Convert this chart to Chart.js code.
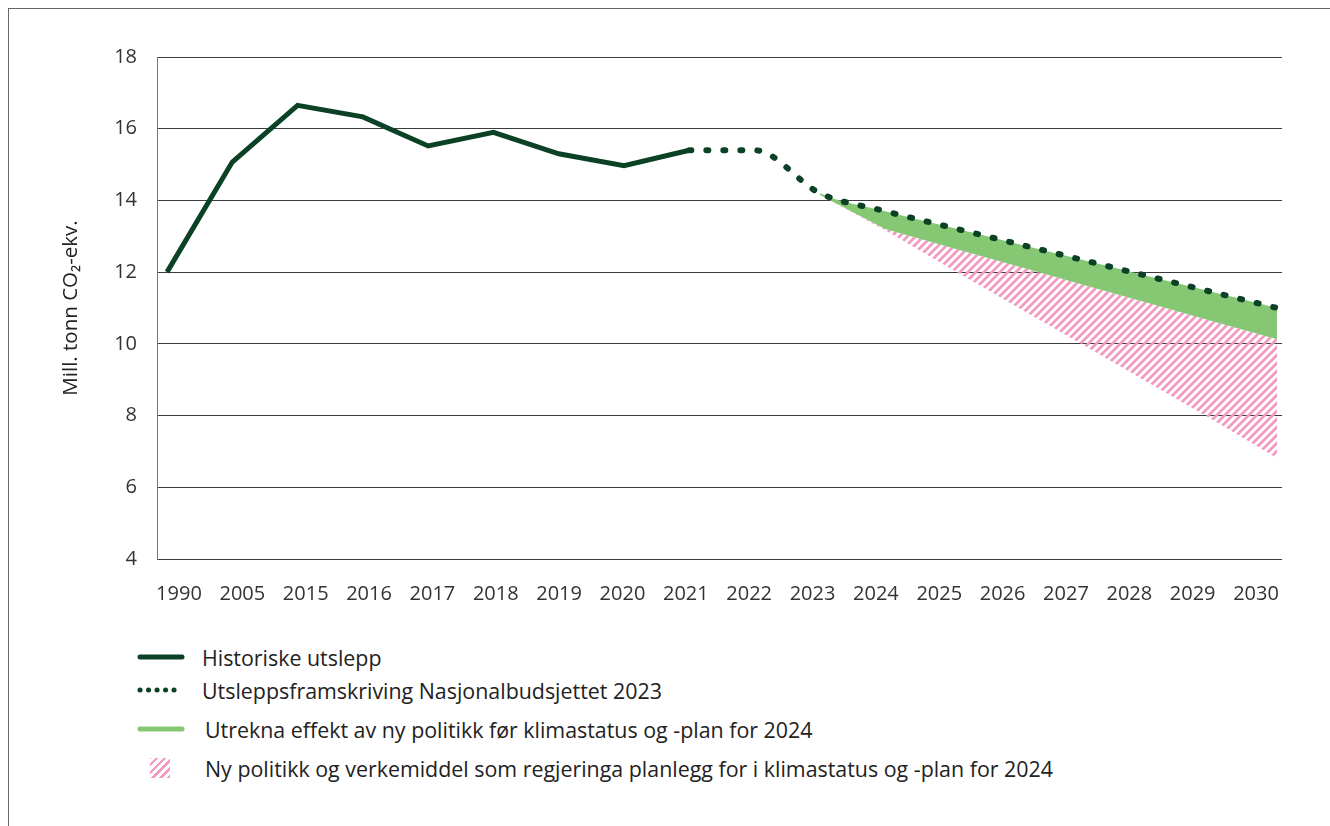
<!DOCTYPE html>
<html>
<head>
<meta charset="utf-8">
<script src="https://cdn.jsdelivr.net/npm/chart.js@4.4.0/dist/chart.umd.min.js"></script>
<style>
  body { margin: 0; background: #fff; font-family: "Open Sans", sans-serif; }
  #frame { position: absolute; left: 8px; top: 8px; width: 1330px; height: 830px;
           border-left: 1px solid #666; border-top: 1px solid #666; }
  #wrap { position: absolute; left: 0; top: 0; width: 1330px; height: 620px; }
  #legend { position: absolute; left: 137px; top: 640px; color: #222; font-size: 21.4px; }
  .item { position: absolute; left: 0; white-space: nowrap; display: flex; align-items: center; height: 34px; }
  .item span { position: absolute; }
</style>
</head>
<body>
<div id="frame"></div>
<div id="wrap"><canvas id="utslepp" width="1330" height="620"></canvas></div>
<div id="legend">
  <div class="item" style="top:0px"><svg width="48" height="10"><line x1="3" y1="5" x2="45" y2="5" stroke="#0b4226" stroke-width="5" stroke-linecap="round"/></svg><span style="left:65px">Historiske utslepp</span></div>
  <div class="item" style="top:33px"><svg width="48" height="10"><line x1="3" y1="5" x2="45" y2="5" stroke="#0b4226" stroke-width="5" stroke-linecap="round" stroke-dasharray="0.1 8.4"/></svg><span style="left:65px">Utsleppsframskriving Nasjonalbudsjettet 2023</span></div>
  <div class="item" style="top:72px"><svg width="48" height="10"><line x1="3" y1="5" x2="45" y2="5" stroke="#86c774" stroke-width="5" stroke-linecap="round"/></svg><span style="left:68px">Utrekna effekt av ny politikk før klimastatus og -plan for 2024</span></div>
  <div class="item" style="top:111px"><div style="width:20px;height:20px;margin-left:13px;background:repeating-linear-gradient(-45deg,#f29bc1 0 2.5px,#fff 2.5px 5.5px)"></div><span style="left:68px">Ny politikk og verkemiddel som regjeringa planlegg for i klimastatus og -plan for 2024</span></div>
</div>
<script>
let aar = ['1990', '2005', '2015', '2016', '2017', '2018', '2019', '2020', '2021',
           '2022', '2023', '2024', '2025', '2026', '2027', '2028', '2029', '2030'];

let historiske = [12.0, 15.07, 16.65, 16.33, 15.52, 15.9, 15.3, 14.97, 15.4,
                  null, null, null, null, null, null, null, null, null];
let framskriving = [null, null, null, null, null, null, null, null, 15.4,
                    15.4, 14.2, 13.7, 13.25, 12.8, 12.35, 11.9, 11.45, 11.0];
let effektNedre = [null, null, null, null, null, null, null, null, null,
                   null, 14.15, 13.2, 12.69, 12.18, 11.66, 11.15, 10.64, 10.13];
let planNedre = [null, null, null, null, null, null, null, null, null,
                 null, 14.15, 13.17, 12.1, 11.05, 10.0, 8.95, 7.9, 6.82];

let yTicks = [4, 6, 8, 10, 12, 14, 16, 18];

function punkt(arr) {
  return arr.map((v, i) => ({ x: i, y: v }));
}

// pink hatch
let pc = document.createElement('canvas');
pc.width = 8; pc.height = 8;
let pctx = pc.getContext('2d');
pctx.strokeStyle = '#f29bc1';
pctx.lineWidth = 2.8;
pctx.beginPath();
pctx.moveTo(-2, 10); pctx.lineTo(10, -2);
pctx.moveTo(-2, 2); pctx.lineTo(2, -2);
pctx.moveTo(6, 10); pctx.lineTo(10, 6);
pctx.stroke();

let kanvas = document.getElementById('utslepp');
let hatch = kanvas.getContext('2d').createPattern(pc, 'repeat');

let grafik = new Chart(kanvas, {
  type: 'line',
  data: {
    datasets: [
      {
        label: 'Historiske utslepp',
        data: punkt(historiske),
        borderColor: '#0b4226',
        borderWidth: 5,
        pointRadius: 0,
        fill: false,
        order: 1
      },
      {
        label: 'Utsleppsframskriving Nasjonalbudsjettet 2023',
        data: punkt(framskriving),
        borderColor: '#0b4226',
        borderWidth: 6,
        borderCapStyle: 'round',
        borderDash: [2, 15],
        cubicInterpolationMode: 'monotone',
        pointRadius: 0,
        fill: false,
        order: 2
      },
      {
        label: 'Utrekna effekt av ny politikk før klimastatus og -plan for 2024',
        data: punkt(effektNedre),
        borderWidth: 0,
        borderColor: 'rgba(0,0,0,0)',
        backgroundColor: '#86c774',
        pointRadius: 0,
        fill: { target: 1 },
        order: 3
      },
      {
        label: 'Ny politikk og verkemiddel som regjeringa planlegg for i klimastatus og -plan for 2024',
        data: punkt(planNedre),
        borderWidth: 0,
        borderColor: 'rgba(0,0,0,0)',
        backgroundColor: hatch,
        pointRadius: 0,
        fill: { target: 2 },
        order: 4
      }
    ]
  },
  options: {
    responsive: false,
    animation: false,
    events: [],
    layout: { padding: { left: 59, top: 57, right: 48, bottom: 0 } },
    plugins: { legend: { display: false }, tooltip: { enabled: false } },
    scales: {
      x: {
        type: 'linear',
        display: false,
        min: -0.153,
        max: 17.077
      },
      xl: {
        type: 'linear',
        position: 'bottom',
        min: -0.347,
        max: 17.41,
        afterBuildTicks: (s) => { s.ticks = aar.map((a, i) => ({ value: i })); },
        afterFit: (s) => { s.height = 61; },
        grid: { display: false, drawTicks: false },
        border: { display: false },
        ticks: {
          autoSkip: false,
          maxRotation: 0,
          padding: 23,
          color: '#333',
          font: { family: 'Open Sans', size: 20 },
          callback: (v, i) => aar[i]
        }
      },
      y: {
        min: 4,
        max: 18,
        afterBuildTicks: (s) => { s.ticks = yTicks.map(v => ({ value: v })); },
        afterFit: (s) => { s.width = 98; },
        grid: { color: '#3c3c3c', lineWidth: 1, drawTicks: false },
        border: { display: true, color: '#777', width: 1 },
        ticks: {
          padding: 20,
          color: '#333',
          font: { family: 'Open Sans', size: 20 }
        },
        title: {
          display: true,
          text: 'Mill. tonn CO₂-ekv.',
          color: '#222',
          padding: 0,
          font: { family: 'Open Sans', size: 20.5 }
        }
      }
    }
  }
});
</script>
</body>
</html>
